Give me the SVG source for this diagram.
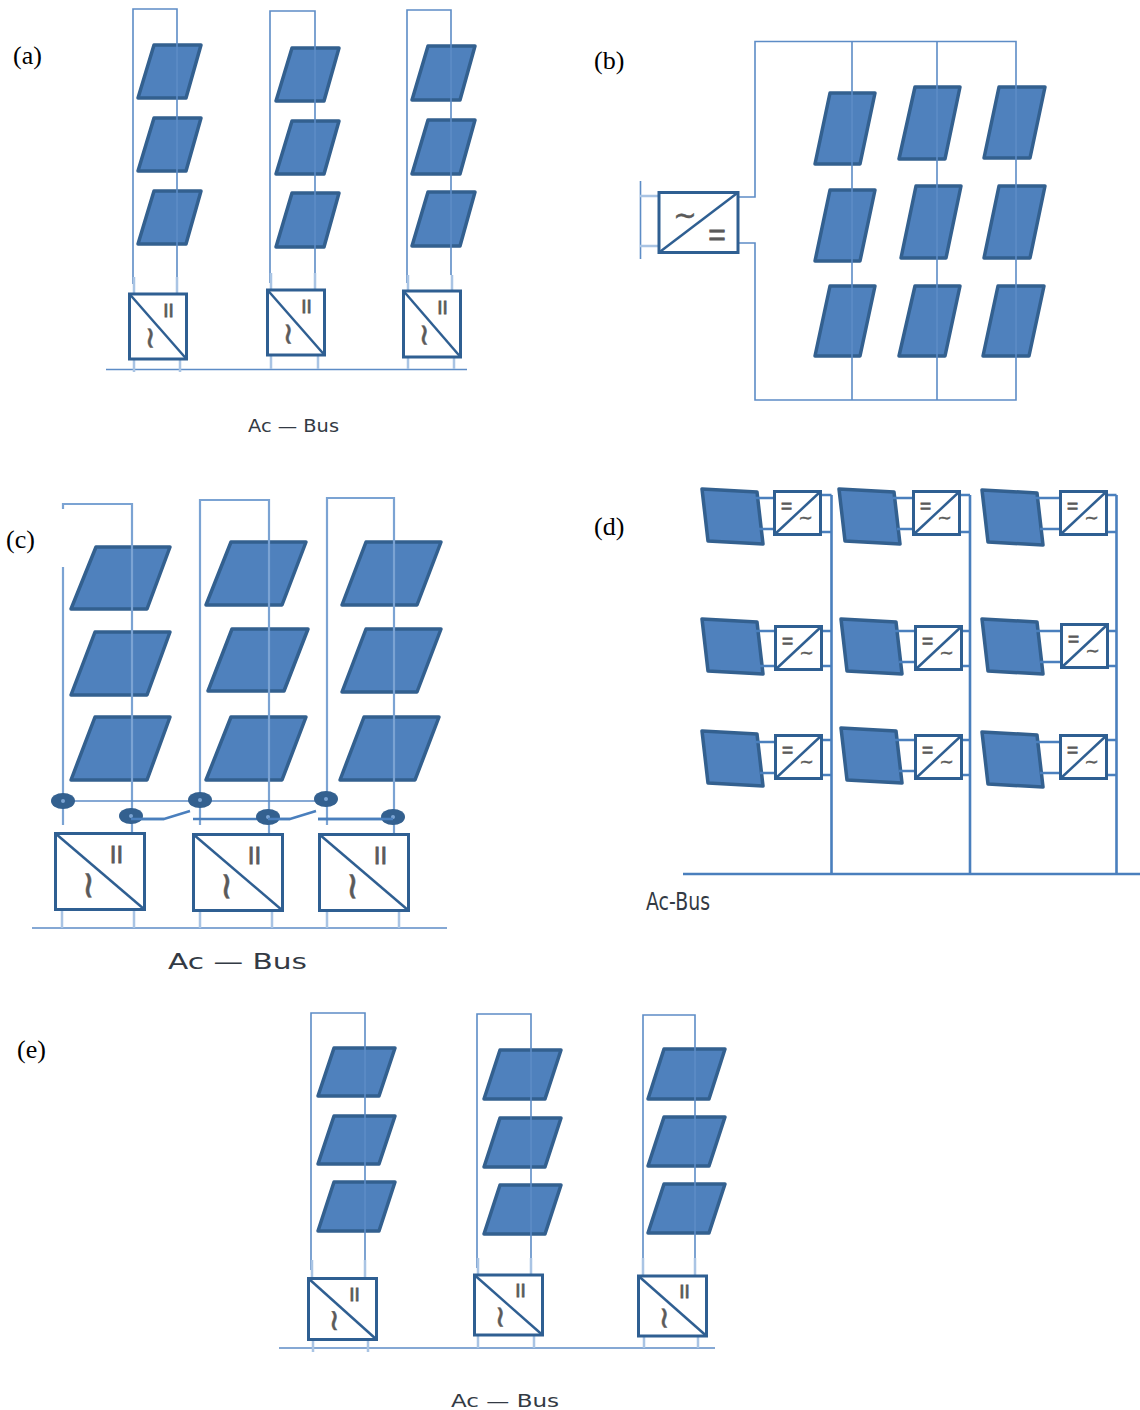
<svg xmlns="http://www.w3.org/2000/svg" width="1140" height="1410" viewBox="0 0 1140 1410">
<style>
.bg{fill:#fff}
.p{fill:#4f81bd;stroke:#33608f;stroke-width:3.5;stroke-linejoin:round}
.w{fill:none;stroke:#5d8cc6;stroke-width:1.6}
.wc{fill:none;stroke:#7ba3d3;stroke-width:2.2}
.s{fill:none;stroke:#a9c4e4;stroke-width:2.5}
.t{fill:none;stroke:#4a7fbd;stroke-width:2.6}
.b{fill:#fff;stroke:#2f5f92;stroke-width:3}
.d{fill:none;stroke:#2f5f92;stroke-width:2.5}
.k{fill:#33608f}
.o{fill:#7ba3d3}
.g{font-family:"Liberation Sans",Arial,sans-serif;fill:#5a5a5a;stroke:#5a5a5a;stroke-width:.8;text-anchor:middle}
.v{font-family:"DejaVu Sans",sans-serif;fill:#5a5a5a;stroke:#5a5a5a;stroke-width:.5;text-anchor:middle}
.l{font-family:"Liberation Serif","Times New Roman",serif;font-size:26px;fill:#000}
.a{font-family:"DejaVu Sans",sans-serif;fill:#333a44}
</style>
<rect class="bg" width="1140" height="1410"/>
<g id="labels">
<text class="l" x="13" y="64">(a)</text>
<text class="l" x="594" y="69">(b)</text>
<text class="l" x="6" y="548">(c)</text>
<text class="l" x="594" y="535">(d)</text>
<text class="l" x="17" y="1058">(e)</text>
<text class="a" x="248" y="432" font-size="17" textLength="91" lengthAdjust="spacingAndGlyphs">Ac — Bus</text>
<text class="a" x="168" y="969" font-size="22" textLength="139" lengthAdjust="spacingAndGlyphs">Ac — Bus</text>
<text class="a" x="451" y="1407" font-size="17" textLength="108" lengthAdjust="spacingAndGlyphs">Ac — Bus</text>
<text class="a" x="646" y="910" font-size="24" textLength="64" lengthAdjust="spacingAndGlyphs">Ac-Bus</text>
</g>

<g id="panels-a">
<polygon id="a-p11" class="p" points="138,98 154,45 201,45 186,98"/>
<polygon id="a-p12" class="p" points="138,171 154,118 201,118 186,171"/>
<polygon id="a-p13" class="p" points="138,244 154,191 201,191 186,244"/>
<polygon id="a-p21" class="p" points="276,101 292,48 339,48 324,101"/>
<polygon id="a-p22" class="p" points="276,174 292,121 339,121 324,174"/>
<polygon id="a-p23" class="p" points="276,247 292,193 339,193 324,247"/>
<polygon id="a-p31" class="p" points="412,100 428,46 475,46 460,100"/>
<polygon id="a-p32" class="p" points="412,174 428,120 475,120 460,174"/>
<polygon id="a-p33" class="p" points="412,246 428,192 475,192 460,246"/>
</g>
<g id="panels-b">
<polygon id="b-p11" class="p" points="815,164 830,93 875,93 860,164"/>
<polygon id="b-p12" class="p" points="815,261 830,190 875,190 860,261"/>
<polygon id="b-p13" class="p" points="815,356 830,286 875,286 860,356"/>
<polygon id="b-p21" class="p" points="899,159 915,87 960,87 945,159"/>
<polygon id="b-p22" class="p" points="901,258 916,186 961,186 946,258"/>
<polygon id="b-p23" class="p" points="899,356 915,286 960,286 945,356"/>
<polygon id="b-p31" class="p" points="984,158 999,87 1045,87 1030,158"/>
<polygon id="b-p32" class="p" points="984,258 999,186 1045,186 1030,258"/>
<polygon id="b-p33" class="p" points="983,356 998,286 1044,286 1029,356"/>
</g>
<g id="panels-c">
<polygon id="c-p11" class="p" points="71,609 96,547 170,547 147,609"/>
<polygon id="c-p12" class="p" points="71,695 95,632 170,632 147,695"/>
<polygon id="c-p13" class="p" points="71,780 95,717 170,717 147,780"/>
<polygon id="c-p21" class="p" points="206,605 231,542 306,542 282,605"/>
<polygon id="c-p22" class="p" points="208,691 232,629 308,629 284,691"/>
<polygon id="c-p23" class="p" points="206,780 231,717 306,717 282,780"/>
<polygon id="c-p31" class="p" points="342,605 366,542 441,542 417,605"/>
<polygon id="c-p32" class="p" points="342,692 366,629 441,629 417,692"/>
<polygon id="c-p33" class="p" points="340,780 364,717 439,717 415,780"/>
</g>
<g id="panels-d">
<polygon id="d-p11" class="p" points="702,489 757,492 763,544 708,541"/>
<polygon id="d-p12" class="p" points="702,619 757,622 763,674 708,671"/>
<polygon id="d-p13" class="p" points="702,731 757,734 763,786 708,783"/>
<polygon id="d-p21" class="p" points="839,489 894,492 900,544 845,541"/>
<polygon id="d-p22" class="p" points="841,619 896,622 902,674 847,671"/>
<polygon id="d-p23" class="p" points="841,728 896,731 902,783 847,780"/>
<polygon id="d-p31" class="p" points="982,490 1037,493 1043,545 988,542"/>
<polygon id="d-p32" class="p" points="982,619 1037,622 1043,674 988,671"/>
<polygon id="d-p33" class="p" points="982,732 1037,735 1043,787 988,784"/>
</g>
<g id="panels-e">
<polygon id="e-p11" class="p" points="318,1096 334,1048 395,1048 379,1096"/>
<polygon id="e-p12" class="p" points="318,1164 334,1116 395,1116 379,1164"/>
<polygon id="e-p13" class="p" points="318,1231 334,1182 395,1182 379,1231"/>
<polygon id="e-p21" class="p" points="484,1099 500,1050 561,1050 545,1099"/>
<polygon id="e-p22" class="p" points="484,1167 500,1118 561,1118 545,1167"/>
<polygon id="e-p23" class="p" points="484,1234 500,1185 561,1185 545,1234"/>
<polygon id="e-p31" class="p" points="648,1099 664,1049 725,1049 709,1099"/>
<polygon id="e-p32" class="p" points="648,1166 664,1117 725,1117 709,1166"/>
<polygon id="e-p33" class="p" points="648,1233 664,1184 725,1184 709,1233"/>
</g>

<g id="connectors">
<path class="w" d="M133,284V9H177V277M270,283V11H315V273M407,283V10H451V275M106,369.500H467"/>
<path class="s" d="M134,277V294M177,277V294M134,359V372M180,359V372M271,273V290M315,273V290M271,355V369M318,355V369M408,275V291M452,275V291M408,357V369M454,357V369"/>

<path class="w" d="M738,197H755V41.500H1016V400H755V243H738M852,41.500V400M937,41.500V400"/>
<path class="w" d="M640.500,181V259"/>
<path class="s" d="M640,196H659M640,246H659"/>

<path class="wc" d="M63,509V504H132V833M63,567V825M200,825V500H269V834M327,825V498H394V834"/>
<path class="w" d="M32,928H447M63,801H326"/>
<path class="s" d="M62,909V928M134,909V928M200,910V928M272,910V928M327,910V928M399,910V928"/>
<path class="t" d="M131,819H164L190,811M193,819H290L316,811M318,819H393"/>

<path class="t" d="M820,495H831.500M820,532H831.500M959,495H970M959,532H970M1106,495H1116.500M1106,532H1116.500"/>
<path class="t" d="M755,498H774M759,529H774M893,498H913M897,529H913M1035,498H1060M1040,529H1060"/>
<path class="t" d="M755,631H775M760,666H775M895,631H915M899,662H915M1036,631H1061M1040,662H1061M822,631H831.500M822,666H831.500M961,631H970M961,666H970M1108,631H1116.500M1108,666H1116.500"/>
<path class="t" d="M755,742H775M760,773H775M895,740H915M899,771H915M1036,742H1060M1040,773H1060M821,740H831.500M821,775H831.500M961,740H970M961,775H970M1106,740H1116.500M1106,775H1116.500"/>
<path class="t" d="M831.500,495V874M970,495V874M1116.500,495V874M683,874H1140"/>

<path class="w" d="M311,1270V1013H365V1266M477,1268V1014H531V1265M643,1268V1015H695V1266M279,1348H715"/>
<path class="s" d="M312,1260V1278M365,1260V1278M313,1339V1352M368,1339V1352M478,1258V1275M531,1258V1275M478,1335V1348M534,1335V1348M643,1258V1276M695,1258V1276M644,1336V1348M698,1336V1348"/>
</g>

<g id="switches-c">
<ellipse class="k" cx="63" cy="801" rx="12" ry="8"/><circle class="o" cx="63" cy="801" r="2"/>
<ellipse class="k" cx="131" cy="816" rx="12" ry="8"/><circle class="o" cx="131" cy="816" r="2"/>
<ellipse class="k" cx="200" cy="800" rx="12" ry="8"/><circle class="o" cx="200" cy="800" r="2"/>
<ellipse class="k" cx="268" cy="817" rx="12" ry="8"/><circle class="o" cx="268" cy="817" r="2"/>
<ellipse class="k" cx="326" cy="799" rx="12" ry="8"/><circle class="o" cx="326" cy="799" r="2"/>
<ellipse class="k" cx="393" cy="817" rx="12" ry="8"/><circle class="o" cx="393" cy="817" r="2"/>
<path class="t" d="M131,819H164M268,819H290M318,819H393"/>
</g>

<g id="a-c1" transform="translate(129.500,294)"><rect class="b" width="57" height="65"/><path class="d" d="M0,0L57,65"/><text class="g" x="39" y="23" font-size="19">II</text><text class="v" font-size="30" transform="translate(21,44) rotate(90)" y="9.600">~</text></g>
<g id="a-c2" transform="translate(267.500,290)"><rect class="b" width="57" height="65"/><path class="d" d="M0,0L57,65"/><text class="g" x="39" y="23" font-size="19">II</text><text class="v" font-size="30" transform="translate(21,44) rotate(90)" y="9.600">~</text></g>
<g id="a-c3" transform="translate(403.500,291)"><rect class="b" width="57" height="66"/><path class="d" d="M0,0L57,66"/><text class="g" x="39" y="23" font-size="19">II</text><text class="v" font-size="30" transform="translate(21,44) rotate(90)" y="9.600">~</text></g>

<g id="b-c1" transform="translate(659,192.500)"><rect class="b" width="79" height="60"/><path class="d" d="M0,60L79,0"/><text class="v" font-size="28" x="26" y="32.500">~</text><text class="g" x="58" y="52" font-size="30">=</text></g>

<g id="c-c1" transform="translate(55.500,833.500)"><rect class="b" width="89" height="76"/><path class="d" d="M0,0L89,76"/><text class="g" x="61" y="29" font-size="24" stroke-width="1.2">II</text><text class="v" font-size="38" transform="translate(33,52) rotate(90)" y="12">~</text></g>
<g id="c-c2" transform="translate(193.500,834.500)"><rect class="b" width="89" height="76"/><path class="d" d="M0,0L89,76"/><text class="g" x="61" y="29" font-size="24" stroke-width="1.2">II</text><text class="v" font-size="38" transform="translate(33,52) rotate(90)" y="12">~</text></g>
<g id="c-c3" transform="translate(319.500,834.500)"><rect class="b" width="89" height="76"/><path class="d" d="M0,0L89,76"/><text class="g" x="61" y="29" font-size="24" stroke-width="1.2">II</text><text class="v" font-size="38" transform="translate(33,52) rotate(90)" y="12">~</text></g>

<g id="d-c11" transform="translate(774.500,491.500)"><rect class="b" width="46" height="43"/><path class="d" d="M0,43L46,0"/><text class="g" x="12" y="20.500" font-size="19">=</text><text class="v" font-size="17" x="31" y="32.500">~</text></g>
<g id="d-c12" transform="translate(775.500,626.500)"><rect class="b" width="46" height="43"/><path class="d" d="M0,43L46,0"/><text class="g" x="12" y="20.500" font-size="19">=</text><text class="v" font-size="17" x="31" y="32.500">~</text></g>
<g id="d-c13" transform="translate(775.500,735.500)"><rect class="b" width="46" height="43"/><path class="d" d="M0,43L46,0"/><text class="g" x="12" y="20.500" font-size="19">=</text><text class="v" font-size="17" x="31" y="32.500">~</text></g>
<g id="d-c21" transform="translate(913.500,491.500)"><rect class="b" width="46" height="43"/><path class="d" d="M0,43L46,0"/><text class="g" x="12" y="20.500" font-size="19">=</text><text class="v" font-size="17" x="31" y="32.500">~</text></g>
<g id="d-c22" transform="translate(915.500,626.500)"><rect class="b" width="46" height="43"/><path class="d" d="M0,43L46,0"/><text class="g" x="12" y="20.500" font-size="19">=</text><text class="v" font-size="17" x="31" y="32.500">~</text></g>
<g id="d-c23" transform="translate(915.500,735.500)"><rect class="b" width="46" height="43"/><path class="d" d="M0,43L46,0"/><text class="g" x="12" y="20.500" font-size="19">=</text><text class="v" font-size="17" x="31" y="32.500">~</text></g>
<g id="d-c31" transform="translate(1060.500,491.500)"><rect class="b" width="46" height="43"/><path class="d" d="M0,43L46,0"/><text class="g" x="12" y="20.500" font-size="19">=</text><text class="v" font-size="17" x="31" y="32.500">~</text></g>
<g id="d-c32" transform="translate(1061.500,624.500)"><rect class="b" width="46" height="43"/><path class="d" d="M0,43L46,0"/><text class="g" x="12" y="20.500" font-size="19">=</text><text class="v" font-size="17" x="31" y="32.500">~</text></g>
<g id="d-c33" transform="translate(1060.500,735.500)"><rect class="b" width="46" height="43"/><path class="d" d="M0,43L46,0"/><text class="g" x="12" y="20.500" font-size="19">=</text><text class="v" font-size="17" x="31" y="32.500">~</text></g>

<g id="e-c1" transform="translate(308.500,1278.500)"><rect class="b" width="68" height="61"/><path class="d" d="M0,0L68,61"/><text class="g" x="46" y="22" font-size="19">II</text><text class="v" font-size="30" transform="translate(26,42) rotate(90)" y="9.600">~</text></g>
<g id="e-c2" transform="translate(474.500,1275)"><rect class="b" width="68" height="60"/><path class="d" d="M0,0L68,60"/><text class="g" x="46" y="22" font-size="19">II</text><text class="v" font-size="30" transform="translate(26,42) rotate(90)" y="9.600">~</text></g>
<g id="e-c3" transform="translate(638.500,1276)"><rect class="b" width="68" height="60"/><path class="d" d="M0,0L68,60"/><text class="g" x="46" y="22" font-size="19">II</text><text class="v" font-size="30" transform="translate(26,42) rotate(90)" y="9.600">~</text></g>
</svg>
